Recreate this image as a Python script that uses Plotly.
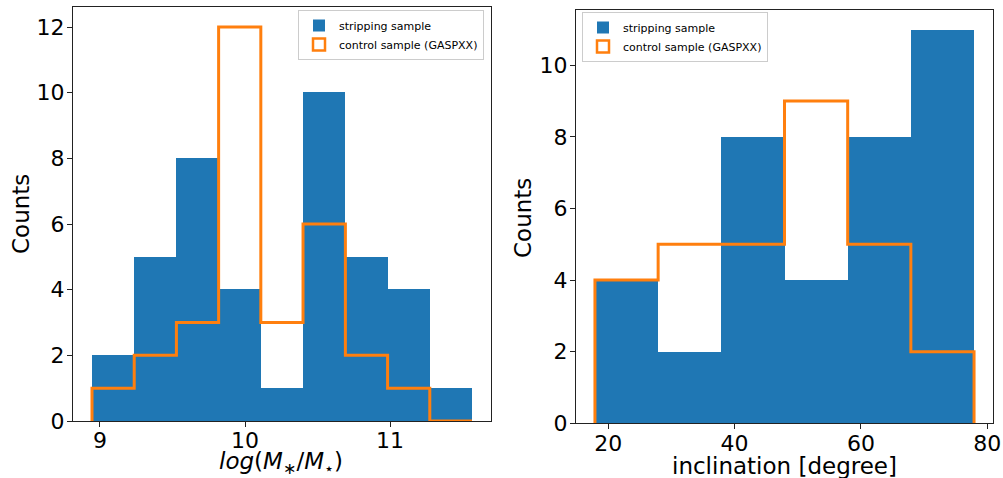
import numpy as np
import plotly.graph_objects as go

# ---- data ----
mass_edges = [8.945, 9.236, 9.527, 9.818, 10.109, 10.400, 10.692, 10.983, 11.274, 11.565]
mass_strip = [2, 5, 8, 4, 1, 10, 5, 4, 1]
mass_ctrl = [1, 2, 3, 12, 3, 6, 2, 1, 0]

incl_edges = [17.9, 27.9, 37.9, 47.9, 57.9, 67.9, 77.9]
incl_strip = [4, 2, 8, 4, 8, 11]
incl_ctrl = [4, 5, 5, 9, 5, 2]

left_xticks = [9, 10, 11]
left_yticks = [0, 2, 4, 6, 8, 10, 12]
right_xticks = [20, 40, 60, 80]
right_yticks = [0, 2, 4, 6, 8, 10]

BLUE = "#1f77b4"
ORANGE = "#ff7f0e"
FONT = "DejaVu Sans"
W, H = 1003, 478


def centers_widths(edges):
    e = np.asarray(edges, dtype=float)
    return (e[:-1] + e[1:]) / 2, np.diff(e)


def step_outline(edges, counts):
    xs = [edges[0]]
    ys = [0]
    for i, c in enumerate(counts):
        xs += [edges[i], edges[i + 1]]
        ys += [c, c]
    xs.append(edges[-1])
    ys.append(0)
    return xs, ys


fig = go.Figure()

panels = [
    (mass_edges, mass_strip, mass_ctrl, "x", "y", "legend"),
    (incl_edges, incl_strip, incl_ctrl, "x2", "y2", "legend2"),
]
for edges, strip, ctrl, xa, ya, leg in panels:
    c, w = centers_widths(edges)
    fig.add_trace(go.Bar(x=c, y=strip, width=w, marker=dict(color=BLUE, line=dict(width=0)),
                         name="stripping sample", xaxis=xa, yaxis=ya, legend=leg))
    sx, sy = step_outline(edges, ctrl)
    fig.add_trace(go.Scatter(x=sx, y=sy, mode="lines", line=dict(color=ORANGE, width=3),
                             showlegend=False, xaxis=xa, yaxis=ya))
    # legend proxy (outlined rectangle)
    fig.add_trace(go.Bar(x=[None], y=[None], marker=dict(color="rgba(255,255,255,1)",
                                                          line=dict(color=ORANGE, width=2.5)),
                         name="control sample (GASPXX)", xaxis=xa, yaxis=ya, legend=leg))

axis_common = dict(showline=True, linecolor="#222", linewidth=1, mirror=True,
                   ticks="outside", ticklen=5, tickwidth=1, tickcolor="#222",
                   showgrid=False, zeroline=False, automargin=False,
                   tickfont=dict(family=FONT, size=22, color="black"))


def px_x(p):
    return p / W


def px_y(p):
    return 1 - p / H


title_font = dict(family=FONT, size=23, color="black")
annotations = [
    dict(text="Counts", x=px_x(21), y=px_y(214), textangle=-90, font=title_font),
    dict(text="Counts", x=px_x(523), y=px_y(218), textangle=-90, font=title_font),
    dict(text="<i>log</i>(<i>M</i><sub>∗</sub>/<i>M</i><sub>⋆</sub>)", x=px_x(281), y=px_y(463),
         font=title_font),
    dict(text="inclination [degree]", x=px_x(784), y=px_y(466), font=title_font),
]
for a in annotations:
    a.update(xref="paper", yref="paper", xanchor="center", yanchor="middle", showarrow=False)

fig.update_layout(
    width=W, height=H,
    margin=dict(l=0, r=0, t=0, b=0),
    paper_bgcolor="white", plot_bgcolor="white",
    barmode="overlay", bargap=0,
    font=dict(family=FONT, color="black"),
    xaxis=dict(domain=[px_x(73), px_x(491)], range=[8.814, 11.696], tickvals=left_xticks,
               anchor="y", ticklabelstandoff=-5, **axis_common),
    yaxis=dict(domain=[px_y(421), px_y(7.3)], range=[0, 12.6], tickvals=left_yticks,
               anchor="x", ticklabelstandoff=-2, **axis_common),
    xaxis2=dict(domain=[px_x(576), px_x(993)], range=[14.9, 80.9], tickvals=right_xticks,
                anchor="y2", ticklabelstandoff=-5, **axis_common),
    yaxis2=dict(domain=[px_y(423.3), px_y(9.8)], range=[0, 11.55], tickvals=right_yticks,
                anchor="x2", ticklabelstandoff=-2, **axis_common),
    annotations=annotations,
    legend=dict(x=px_x(484), y=px_y(10), xanchor="right", yanchor="top",
                bgcolor="rgba(255,255,255,0.8)", bordercolor="#ccc", borderwidth=1,
                font=dict(family=FONT, size=11), tracegroupgap=0, itemwidth=30),
    legend2=dict(x=px_x(582), y=px_y(12), xanchor="left", yanchor="top",
                 bgcolor="rgba(255,255,255,0.8)", bordercolor="#ccc", borderwidth=1,
                 font=dict(family=FONT, size=11), tracegroupgap=0, itemwidth=30),
)

fig.write_html("out.html", config={"displayModeBar": False},
               post_script="document.body.style.margin='0';")
